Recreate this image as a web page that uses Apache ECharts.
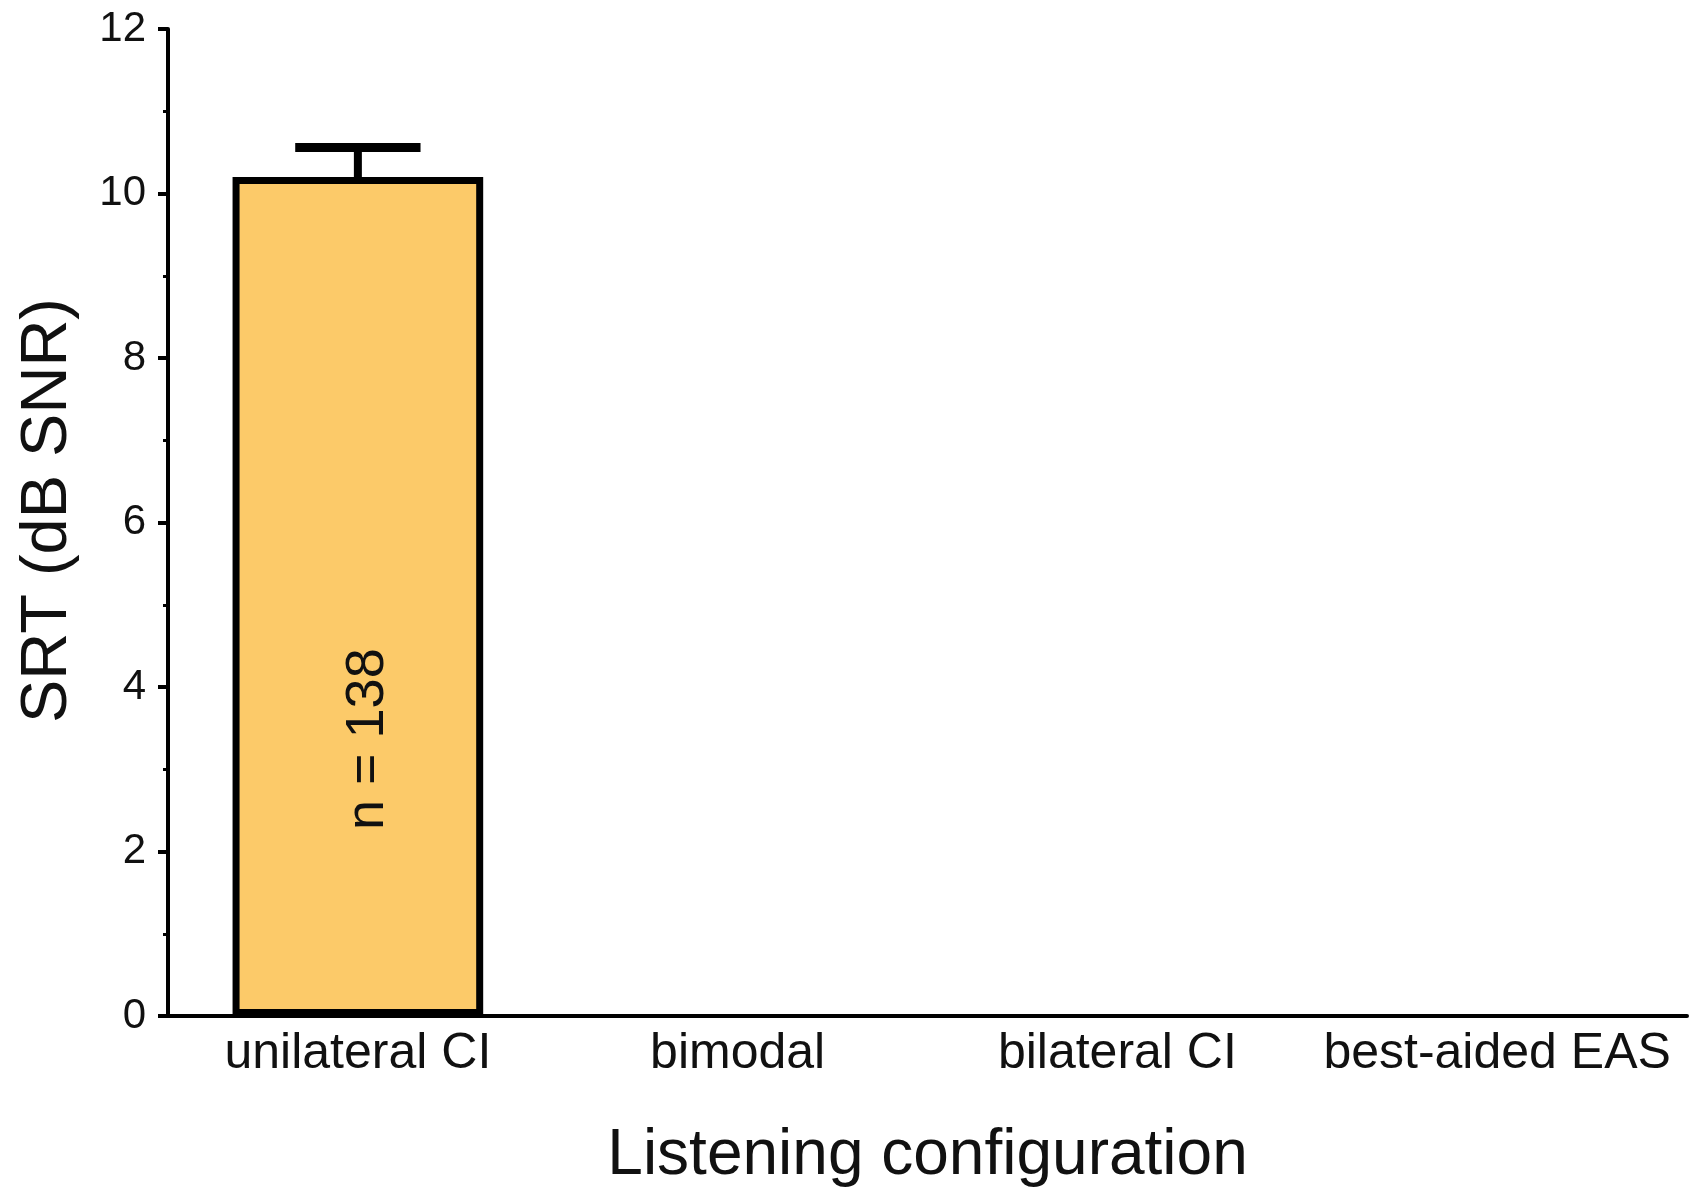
<!DOCTYPE html>
<html>
<head>
<meta charset="utf-8">
<script src="https://cdn.jsdelivr.net/npm/echarts@6/dist/echarts.min.js"></script>
<style>
html,body{margin:0;padding:0;background:#fff;}
#chart{width:1700px;height:1190px;}
</style>
</head>
<body>
<div id="chart"></div>
<script>
const categories = ['unilateral CI', 'bimodal', 'bilateral CI', 'best-aided EAS'];
const means = [10.2, null, null, null];
const errUpper = [10.56, null, null, null];
const nLabels = ['n = 138', '', '', ''];
const yTicks = [0, 2, 4, 6, 8, 10, 12];

const FONT = "'Liberation Sans', Arial, Helvetica, sans-serif";
const chart = echarts.init(document.getElementById('chart'));

const errData = [];
means.forEach((m, i) => { if (m != null && errUpper[i] != null) errData.push([i, m, errUpper[i]]); });

chart.setOption({
  animation: false,
  backgroundColor: '#ffffff',
  grid: { left: 168, right: 13, top: 29, bottom: 174, containLabel: false, outerBoundsMode: 'none' },
  xAxis: {
    type: 'category',
    data: categories,
    name: 'Listening configuration',
    nameLocation: 'middle',
    nameGap: 108,
    nameTextStyle: { fontFamily: FONT, fontSize: 64, color: '#111' },
    axisLine: { show: true, lineStyle: { color: '#000', width: 4 } },
    axisTick: { show: false },
    axisLabel: { fontFamily: FONT, fontSize: 50, color: '#111', margin: 13, interval: 0 },
    splitLine: { show: false }
  },
  yAxis: {
    type: 'value',
    min: yTicks[0],
    max: yTicks[yTicks.length - 1],
    interval: yTicks[1] - yTicks[0],
    name: 'SRT (dB SNR)',
    nameLocation: 'middle',
    nameGap: 87,
    nameTextStyle: { fontFamily: FONT, fontSize: 65, color: '#111', padding: [0, 0, 0, 24] },
    axisLine: { show: true, lineStyle: { color: '#000', width: 4 } },
    axisTick: { show: true, inside: false, length: 10, lineStyle: { color: '#000', width: 4 } },
    minorTick: { show: true, splitNumber: 2, length: 5, lineStyle: { color: '#000', width: 3 } },
    axisLabel: { fontFamily: FONT, fontSize: 42, color: '#111', margin: 22 },
    splitLine: { show: false },
    minorSplitLine: { show: false }
  },
  series: [
    {
      type: 'bar',
      data: means,
      barWidth: '66%',
      itemStyle: { color: '#FCCA69', borderColor: '#000', borderWidth: 7 },
      label: {
        show: true,
        position: ['54%', '67%'],
        rotate: 90,
        align: 'center',
        verticalAlign: 'middle',
        fontFamily: FONT,
        fontSize: 54,
        color: '#111',
        formatter: p => nLabels[p.dataIndex]
      },
      z: 2
    },
    {
      type: 'custom',
      data: errData,
      z: 3,
      renderItem: function (params, api) {
        const x = api.value(0), lo = api.value(1), hi = api.value(2);
        const pLo = api.coord([x, lo]);
        const pHi = api.coord([x, hi]);
        const half = api.size([1, 0])[0] * 0.33 / 2;
        return {
          type: 'group',
          children: [
            { type: 'line', shape: { x1: pLo[0], y1: pLo[1], x2: pHi[0], y2: pHi[1] }, style: { stroke: '#000', lineWidth: 8 } },
            { type: 'line', shape: { x1: pHi[0] - half, y1: pHi[1], x2: pHi[0] + half, y2: pHi[1] }, style: { stroke: '#000', lineWidth: 9 } }
          ]
        };
      }
    }
  ]
});
</script>
</body>
</html>
